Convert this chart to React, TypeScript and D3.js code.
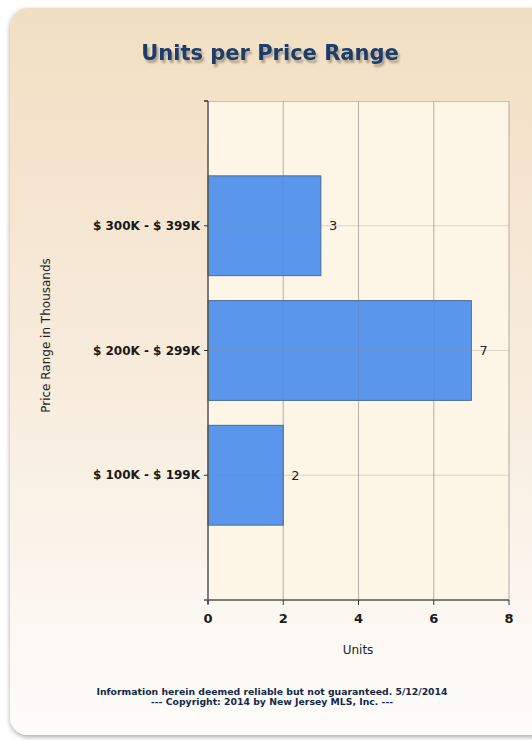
import React from "react";
import * as d3 from "d3";

const categories = ["$ 100K - $ 199K", "$ 200K - $ 299K", "$ 300K - $ 399K"];
const units = [2, 7, 3];
const xTicks = [0, 2, 4, 6, 8];

const W = 532;
const H = 740;
const plot = { left: 208, right: 509, top: 101, bottom: 600 };

export default function App() {
  const x = d3.scaleLinear().domain([0, 8]).range([plot.left, plot.right]);
  // categories placed at positions 1..3 on a 0..4 axis
  const y = d3.scaleLinear().domain([0, categories.length + 1]).range([plot.bottom, plot.top]);
  const band = (y(0) - y(1)) * 0.8;
  const font = "Tahoma, 'DejaVu Sans', Verdana, sans-serif";

  return (
    <svg width={W} height={H} style={{ position: "absolute", left: 0, top: 0 }} fontFamily={font}>
      <defs>
        <linearGradient id="cardGrad" x1="0" y1="0" x2="0" y2="1">
          <stop offset="0" stopColor="#f2dfc2" />
          <stop offset="0.55" stopColor="#f8eddf" />
          <stop offset="1" stopColor="#fefdfb" />
        </linearGradient>
        <filter id="shadow" x="-5%" y="-5%" width="110%" height="110%">
          <feGaussianBlur in="SourceAlpha" stdDeviation="2.5" />
          <feOffset dx="0" dy="2" result="b" />
          <feComponentTransfer><feFuncA type="linear" slope="0.35" /></feComponentTransfer>
          <feMerge><feMergeNode /><feMergeNode in="SourceGraphic" /></feMerge>
        </filter>
        <filter id="titleShadow" x="-10%" y="-30%" width="120%" height="160%">
          <feGaussianBlur in="SourceAlpha" stdDeviation="1.2" />
          <feOffset dx="2" dy="3" result="o" />
          <feComponentTransfer><feFuncA type="linear" slope="0.3" /></feComponentTransfer>
          <feMerge><feMergeNode /><feMergeNode in="SourceGraphic" /></feMerge>
        </filter>
      </defs>
      <rect x={0} y={0} width={W} height={H} fill="#ffffff" />
      <rect x={10} y={8} width={540} height={727} rx={18} fill="url(#cardGrad)" filter="url(#shadow)" />

      <text x={270} y={60} textAnchor="middle" fontSize={21} fontWeight="bold" fill="#1d3c6b" filter="url(#titleShadow)">
        Units per Price Range
      </text>

      <rect x={plot.left} y={plot.top} width={plot.right - plot.left} height={plot.bottom - plot.top} fill="#fdf5e6" />

      {xTicks.slice(1).map((t) => (
        <line key={"gx" + t} x1={x(t)} x2={x(t)} y1={plot.top} y2={plot.bottom} stroke="#c8c2b8" strokeWidth={1} />
      ))}
      <line x1={plot.left} x2={plot.right} y1={plot.top + 0.5} y2={plot.top + 0.5} stroke="#c8c2b8" />

      {units.map((v, i) => (
        <rect key={"b" + i} x={x(0)} y={y(i + 1) - band / 2} width={x(v) - x(0)} height={band}
          fill="#5a97ec" stroke="#4c6d95" strokeWidth={1} />
      ))}

      {xTicks.slice(1).map((t) => (
        <line key={"gx2" + t} x1={x(t)} x2={x(t)} y1={plot.top} y2={plot.bottom} stroke="#6a6a6a" strokeOpacity={0.18} />
      ))}
      {categories.map((c, i) => (
        <line key={"gy" + i} x1={plot.left} x2={plot.right} y1={y(i + 1)} y2={y(i + 1)} stroke="#8a8a8a" strokeOpacity={0.3} />
      ))}

      {/* axes */}
      <line x1={plot.left} x2={plot.left} y1={plot.top} y2={plot.bottom + 4} stroke="#555" strokeWidth={1.5} />
      <line x1={plot.left - 4} x2={plot.right} y1={plot.bottom} y2={plot.bottom} stroke="#555" strokeWidth={1.5} />
      <line x1={plot.left - 4} x2={plot.left} y1={plot.top} y2={plot.top} stroke="#333" strokeWidth={1.5} />
      {categories.map((c, i) => (
        <g key={"yt" + i}>
          <line x1={plot.left - 4} x2={plot.left} y1={y(i + 1)} y2={y(i + 1)} stroke="#333" />
          <text x={plot.left - 8} y={y(i + 1)} dy="0.35em" textAnchor="end" fontSize={12} fontWeight="bold" fill="#1a1a1a">
            {c}
          </text>
        </g>
      ))}
      {xTicks.map((t) => (
        <g key={"xt" + t}>
          <line x1={x(t)} x2={x(t)} y1={plot.bottom} y2={plot.bottom + 5} stroke="#333" />
          <text x={x(t)} y={plot.bottom + 23} textAnchor="middle" fontSize={13} fontWeight="bold" fill="#1a1a1a">{t}</text>
        </g>
      ))}

      {units.map((v, i) => (
        <text key={"v" + i} x={x(v) + 8} y={y(i + 1)} dy="0.35em" fontSize={13} fill="#222">{v}</text>
      ))}

      <text x={358} y={654} textAnchor="middle" fontSize={12} fill="#222">Units</text>
      <text transform={`translate(50,${(plot.top + plot.bottom) / 2 - 15}) rotate(-90)`} textAnchor="middle" fontSize={12} fill="#222">
        Price Range in Thousands
      </text>

      <text x={272} y={695} textAnchor="middle" fontSize={9.3} fontWeight="bold" fill="#14284a">
        Information herein deemed reliable but not guaranteed. 5/12/2014
      </text>
      <text x={272} y={705} textAnchor="middle" fontSize={9.3} fontWeight="bold" fill="#14284a">
        --- Copyright: 2014 by New Jersey MLS, Inc. ---
      </text>
    </svg>
  );
}
